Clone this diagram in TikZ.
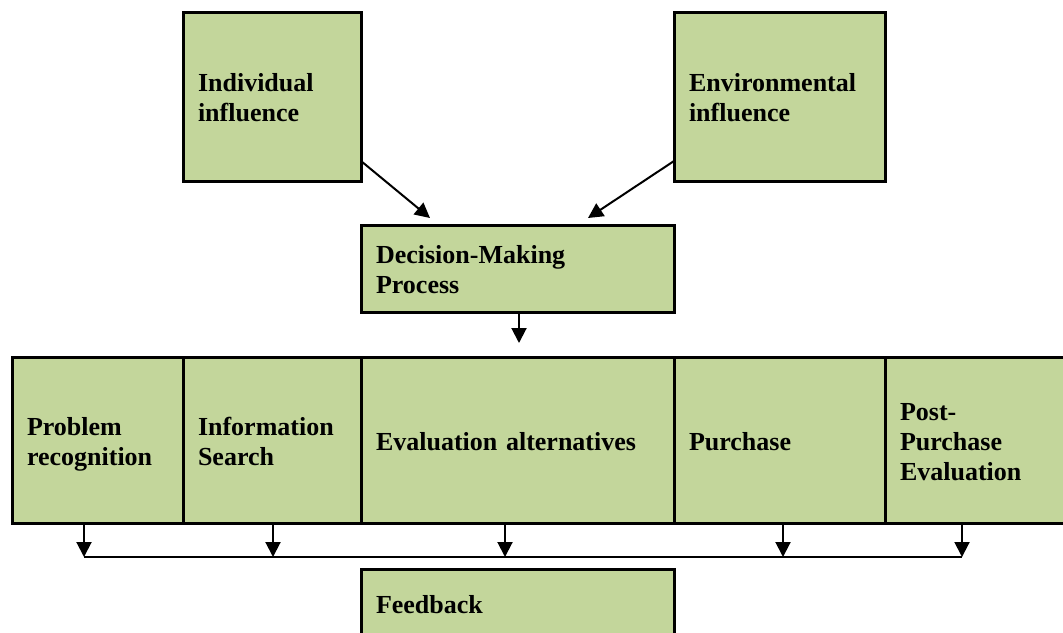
\documentclass[tikz,border=0pt]{standalone}
\usepackage{fontspec}
\setmainfont{Liberation Serif}
\usetikzlibrary{arrows.meta}
\definecolor{boxgreen}{HTML}{C3D69B}
\begin{document}
\begin{tikzpicture}[x=0.5pt, y=-0.5pt,
    box/.style={draw, line width=1.5pt, fill=boxgreen, inner xsep=7.5pt, inner ysep=0pt,
        outer sep=0pt, align=left, font=\bfseries\fontsize{13}{15}\selectfont,
        execute at begin node=\rule{0pt}{14.5pt}, execute at end node=\strut},
    arr/.style={-{Triangle[length=7.5pt,width=7.5pt]}, line width=1pt}]
\useasboundingbox (0,0) rectangle (1063,632);
\node[box, minimum width=89pt, minimum height=84.5pt, text width=74pt] (ind) at (272,96.5) {Individual\\influence};
\node[box, minimum width=105.5pt, minimum height=84.5pt, text width=90.5pt] (env) at (779.5,96.5) {Environmental\\influence};
\node[box, minimum width=156.5pt, minimum height=43.5pt, text width=141.5pt] (dmp) at (517.5,268.5) {Decision-Making\\Process};
\node[box, minimum width=85.5pt, minimum height=83pt, text width=70.5pt] (prob) at (97.5,440) {Problem\\recognition};
\node[box, minimum width=89pt, minimum height=83pt, text width=74pt] (info) at (272,440) {Information\\Search};
\node[box, minimum width=156.5pt, minimum height=83pt, text width=141.5pt] (eval) at (517.5,440) {Evaluation alternatives};
\node[box, minimum width=105.5pt, minimum height=83pt, text width=90.5pt] (purch) at (779.5,440) {Purchase};
\node[box, minimum width=91.5pt, minimum height=83pt, text width=76.5pt] (post) at (976.5,440) {Post-\\Purchase\\Evaluation};
\node[box, minimum width=156.5pt, minimum height=34pt, text width=141.5pt] (fb) at (517.5,603) {Feedback};
\coordinate (f1) at (84,557);
\coordinate (f2) at (273,557);
\coordinate (f3) at (505,557);
\coordinate (f4) at (783,557);
\coordinate (f5) at (962,557);
\draw[arr] ([yshift=10pt]ind.south east) -- ([xshift=34.5pt,yshift=3.5pt]dmp.north west);
\draw[arr] ([yshift=10pt]env.south west) -- ([xshift=113.5pt,yshift=3.5pt]dmp.north west);
\draw[arr] ([xshift=0.75pt]dmp.south) -- ([xshift=0.75pt,yshift=7pt]eval.north);
\draw[arr] (prob.south -| f1) -- (f1);
\draw[arr] (info.south -| f2) -- (f2);
\draw[arr] (eval.south -| f3) -- (f3);
\draw[arr] (purch.south -| f4) -- (f4);
\draw[arr] (post.south -| f5) -- (f5);
\draw[line width=0.7pt] (f1) -- (f5);
\end{tikzpicture}
\end{document}
